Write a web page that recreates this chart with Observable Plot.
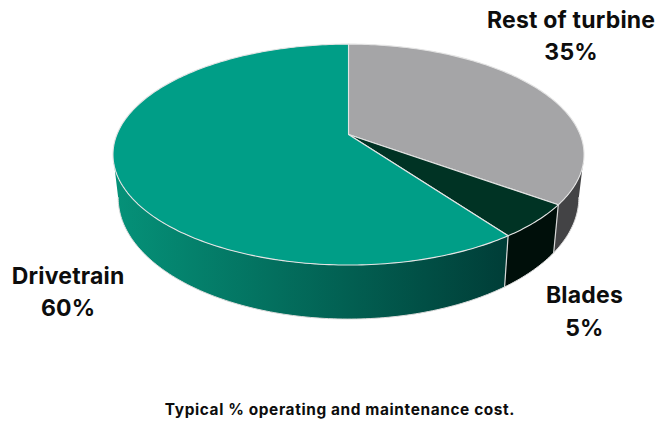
<!DOCTYPE html>
<html>
<head>
<meta charset="utf-8">
<script src="https://cdn.jsdelivr.net/npm/d3@7"></script>
<script src="https://cdn.jsdelivr.net/npm/@observablehq/plot@0.6"></script>
<style>
html,body{margin:0;padding:0;background:#fff;}
figure{margin:0;}
svg{display:block;}
svg text{letter-spacing:.2px;}
figcaption{font:700 15.4px Inter,sans-serif;letter-spacing:.62px;color:#0d0d0d;text-align:center;margin:5px 0 0 25px;}
</style>
</head>
<body>
<div id="chart"></div>
<script>
const categories = ["Rest of turbine", "Blades", "Drivetrain"];
const shares = [35, 5, 60];
const topColors = ["#a5a5a7", "#003324", "#009e87"];
const sideColors = ["#434345", "#000f0a", "url(#driveSide)"];
const labelShift = [[32, -56], [48, 88], [-47, 120]];
const captionText = "Typical % operating and maintenance cost.";

// perspective projection of the unit disc
const K = 0.1818, A = 231.6, B = 106.8, CX = 348, CY = 134;
const top3d = (t) => {
  const X = Math.sin(t), Y = Math.cos(t), d = 1 + K * Y;
  return [CX + A * X / d, CY - B * Y / d];
};
const bottom3d = (t) => {
  const [x, y] = top3d(t);
  return [CX + (x - CX) * 0.978, 175 + (y - CY) * 1.1];
};
const rad = (turn) => turn * 2 * Math.PI;
const arc = (f, a, b) => {
  const n = Math.max(2, Math.ceil(Math.abs(b - a) * 60));
  return d3.range(n + 1).map((i) => f(a + (b - a) * i / n));
};

const total = d3.sum(shares);
let acc = 0;
const slices = categories.map((name, i) => {
  const start = rad(acc / total);
  acc += shares[i];
  return {name, i, share: shares[i], start, end: rad(acc / total)};
});

const tangent = Math.acos(-K);
const tops = [], sides = [], rims = [], walls = [];
for (const s of slices) {
  const pts = [[CX, CY], ...arc(top3d, s.start, s.end), [CX, CY]];
  pts.forEach((p) => tops.push({id: s.i, x: p[0], y: p[1]}));
  const a = Math.max(s.start, tangent), b = Math.min(s.end, 2 * Math.PI - tangent);
  if (b > a) {
    [...arc(top3d, a, b), ...arc(bottom3d, b, a)].forEach((p) => sides.push({id: s.i, x: p[0], y: p[1]}));
    arc(bottom3d, a, b).forEach((p) => rims.push({id: s.i, x: p[0], y: p[1]}));
  }
}
for (const s of slices.slice(0, 2)) {
  [top3d(s.end), bottom3d(s.end)].forEach((p) => walls.push({id: s.i, x: p[0], y: p[1]}));
}

const gradient = () => {
  const defs = d3.create("svg:defs");
  const g = defs.append("linearGradient").attr("id", "driveSide").attr("x1", 0).attr("x2", 1).attr("y1", 0).attr("y2", 0);
  g.append("stop").attr("offset", "0%").attr("stop-color", "#059279");
  g.append("stop").attr("offset", "100%").attr("stop-color", "#003d37");
  return defs.node();
};

const sideMarks = slices.map((s) => Plot.line(sides.filter((d) => d.id === s.i), {
  x: "x", y: "y", fill: sideColors[s.i], stroke: "none", curve: "linear-closed"
}));
const topMarks = slices.map((s) => Plot.line(tops.filter((d) => d.id === s.i), {
  x: "x", y: "y", fill: topColors[s.i], stroke: "#e4e4e4", strokeWidth: 1.1, curve: "linear-closed", strokeLinejoin: "round"
}));
const labelMarks = slices.map((s) => {
  const [x, y] = top3d((s.start + s.end) / 2);
  return Plot.text([`${s.name}\n${s.share}%`], {
    x: () => x, y: () => y, text: (d) => d,
    dx: labelShift[s.i][0], dy: labelShift[s.i][1],
    fontSize: 23, fontWeight: 700, fill: "#0d0d0d", lineHeight: 1.42,
    textAnchor: "middle", lineAnchor: "middle"
  });
});

const chart = Plot.plot({
  width: 655, height: 395,
  margin: 0,
  x: {domain: [0, 655], range: [0, 655], axis: null},
  y: {domain: [0, 395], range: [0, 395], axis: null},
  style: {fontFamily: "Inter, sans-serif", background: "#fff"},
  caption: captionText,
  marks: [
    gradient,
    ...sideMarks,
    Plot.line(rims, {x: "x", y: "y", z: "id", stroke: "#dcdcdc", strokeWidth: 1}),
    Plot.line(walls, {x: "x", y: "y", z: "id", stroke: "#d8d8d8", strokeWidth: 1.2}),
    ...topMarks,
    ...labelMarks
  ]
});
document.getElementById("chart").append(chart);
</script>
</body>
</html>
